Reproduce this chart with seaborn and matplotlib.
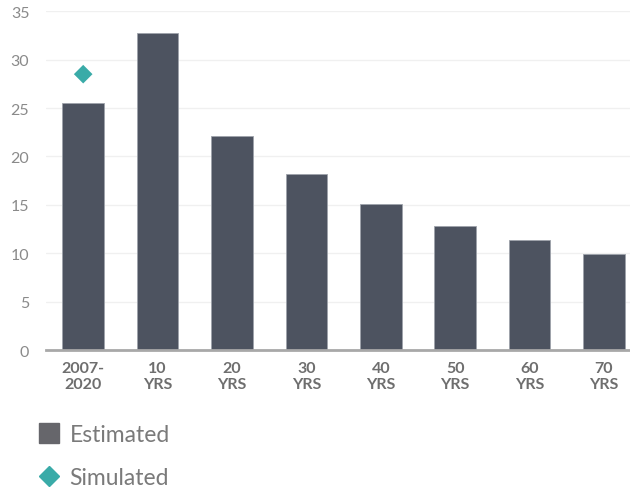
import matplotlib
matplotlib.use("Agg")
import matplotlib.pyplot as plt
from matplotlib.lines import Line2D
import seaborn as sns
import pandas as pd

categories = ["2007-\n2020", "10\nYRS", "20\nYRS", "30\nYRS", "40\nYRS", "50\nYRS", "60\nYRS", "70\nYRS"]
estimated = [25.5, 32.8, 22.1, 18.2, 15.1, 12.8, 11.4, 9.9]
sim_categories = ["2007-\n2020"]
simulated = [28.5]
y_ticks = [0, 5, 10, 15, 20, 25, 30, 35]

sns.set_style("white")
plt.rcParams["font.family"] = ["Lato", "DejaVu Sans"]

df = pd.DataFrame({"period": categories, "value": estimated})
sim_df = pd.DataFrame({"period": sim_categories, "value": simulated})

fig = plt.figure(figsize=(6.3, 4.89), dpi=100)
ax = fig.add_axes([0.073, 0.282, 0.927, 0.693])

# bars
sns.barplot(data=df, x="period", y="value", order=categories, color="#4d5360",
            width=0.56, edgecolor="#9ea3ab", linewidth=0.6, saturation=1, ax=ax, zorder=2)
# simulated point
sns.scatterplot(data=sim_df, x="period", y="value", marker="D", s=90, color="#3aaba8",
                edgecolor="none", ax=ax, zorder=3)

ax.set_ylim(0, 35)
ax.set_xlim(-0.5, 7.35)
ax.set_yticks(y_ticks)
ax.yaxis.grid(True, color="#f0f0f0", linewidth=1)
ax.set_axisbelow(True)
for s in ["top", "right", "left"]:
    ax.spines[s].set_visible(False)
ax.spines["bottom"].set_color("#a8a8a8")
ax.spines["bottom"].set_linewidth(2)
ax.tick_params(axis="y", length=0, labelsize=11.5, labelcolor="#8a8a8a", pad=12)
ax.tick_params(axis="x", length=0, labelsize=11.5, labelcolor="#6e6e6e", pad=8)
for lbl in ax.get_xticklabels():
    lbl.set_fontweight("bold")
ax.set_xlabel("")
ax.set_ylabel("")

handles = [
    Line2D([], [], linestyle="none", marker="s", markersize=14, color="#66666b"),
    Line2D([], [], linestyle="none", marker="D", markersize=10, color="#3aaba8"),
]
fig.legend(handles, ["Estimated", "Simulated"], loc="upper left",
           bbox_to_anchor=(0.045, 0.15), frameon=False, fontsize=16.5,
           labelcolor="#7a7a7a", handletextpad=0.4, labelspacing=0.95,
           handlelength=1.0, borderaxespad=0)

fig.savefig("out.png", dpi=100)
